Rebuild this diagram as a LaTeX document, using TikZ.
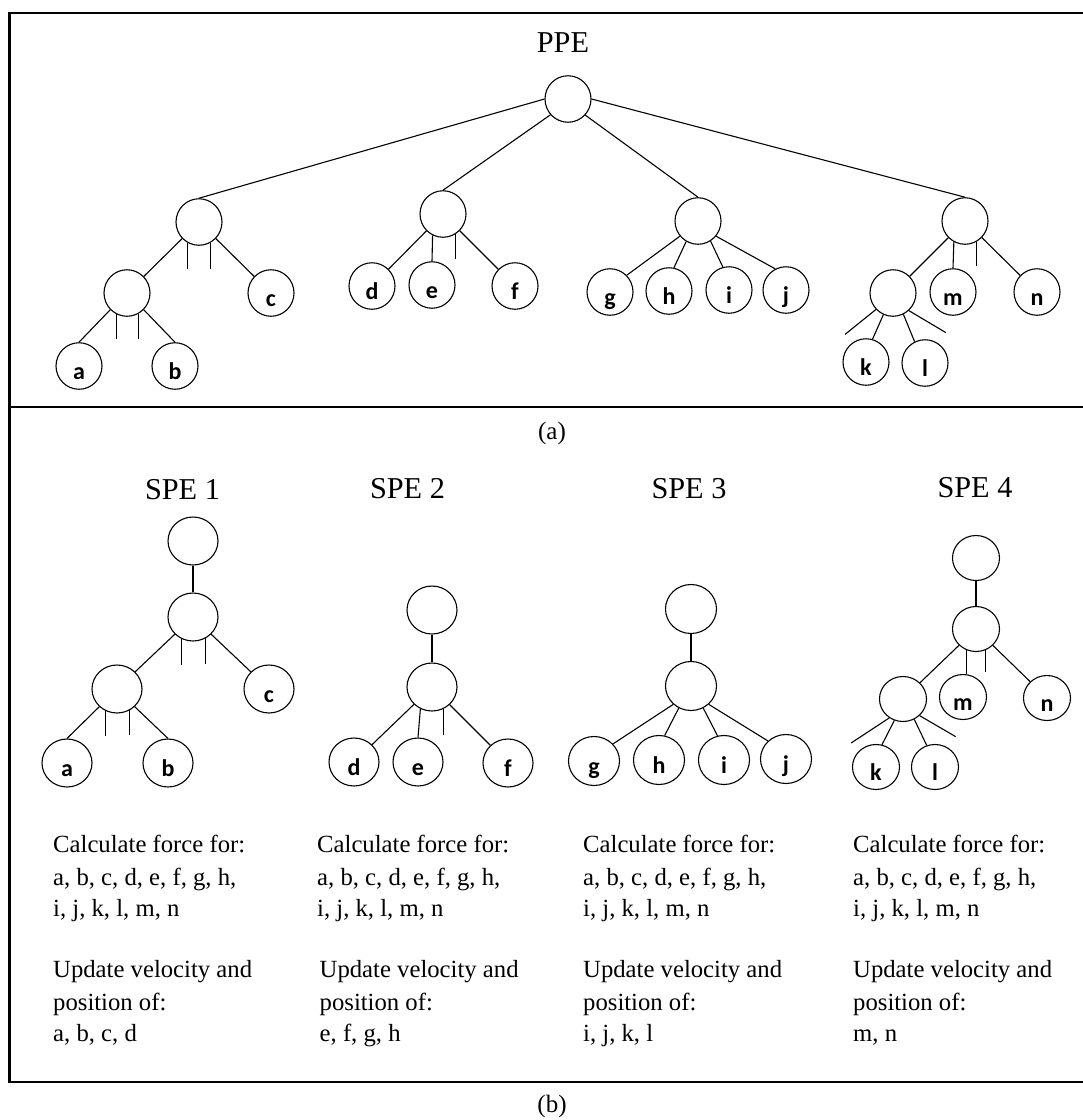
\documentclass[tikz,border=0pt]{standalone}
\usepackage{fontspec}
\setmainfont{Liberation Serif}
\newfontfamily\lblfont{Carlito}
\usetikzlibrary{shapes.geometric}
\newcommand\nlab[1]{\raisebox{-13pt}{#1}}
\begin{document}
\begin{tikzpicture}[x=1pt,y=-1pt,
  edge/.style={line width=1.1pt},
  frame/.style={line width=2.8pt},
  nbase/.style={draw, ellipse, line width=1.1pt, inner sep=0pt, text height=0pt, text depth=0pt,
    font=\lblfont\bfseries\fontsize{24}{24}\selectfont},
  na/.style={nbase, minimum width=46pt, minimum height=46.5pt},
  nb/.style={nbase, minimum width=50pt, minimum height=48pt},
  nc/.style={nbase, minimum width=51pt, minimum height=49pt},
  nd/.style={nbase, minimum width=47pt, minimum height=45pt},
  ttl/.style={font=\fontsize{30.3}{36}\selectfont, anchor=base, inner sep=0pt},
  capt/.style={font=\fontsize{25}{30}\selectfont, anchor=base, inner sep=0pt},
  txt/.style={font=\fontsize{24.7}{30}\selectfont, anchor=base west, inner sep=0pt},
]
\useasboundingbox (0,0) rectangle (1083,1120);

% frame
\draw[frame] (1083,13) -- (9.5,13) -- (9.5,1082) -- (1083,1082);
\draw[frame] (9.5,407) -- (1083,407);

% ---------------- (a) PPE ----------------
\node[ttl] (ppe) at (563,52.5) {PPE};
\node[na] (root) at (568,99) {};
\node[na] (p1) at (199,222) {};
\node[na] (p2) at (443,214) {};
\node[na] (p3) at (698,221) {};
\node[na] (p4) at (965,221) {};
\node[na] (q1) at (127,293) {};
\node[na] (c) at (271,293) {\nlab{c}};
\node[na] (a) at (79,366) {\nlab{a}};
\node[na] (b) at (175,366) {\nlab{b}};
\node[na] (d) at (372,286) {\nlab{d}};
\node[na] (e) at (432,285) {\nlab{e}};
\node[na] (f) at (515,286) {\nlab{f}};
\node[na] (g) at (610,292) {\nlab{g}};
\node[na] (h) at (669,291) {\nlab{h}};
\node[na] (i) at (729,290) {\nlab{i}};
\node[na] (j) at (786,290) {\nlab{j}};
\node[na] (q4) at (893,293) {};
\node[na] (m) at (953,292) {\nlab{m}};
\node[na] (n) at (1037,292) {\nlab{n}};
\node[na] (k) at (866,362) {\nlab{k}};
\node[na] (l) at (925,363) {\nlab{l}};

\draw[edge] (root.west) -- (p1.north);
\draw[edge] (root.-138) -- (p2.north);
\draw[edge] (root.-43) -- (p3.north);
\draw[edge] (root.east) -- (p4.north);

\draw[edge] (p1) -- (q1);
\draw[edge] (p1) -- (c);
\draw[edge] (p1.-118) -- ++(0,26);
\draw[edge] (p1.-61) -- ++(0,26);
\draw[edge] (q1.-135) -- (a.north);
\draw[edge] (q1.-45) -- (b.north);
\draw[edge] (q1.-116) -- ++(0,25);
\draw[edge] (q1.-61) -- ++(0,25);

\draw[edge] (p2) -- (d);
\draw[edge] (p2.-116) -- (e.north);
\draw[edge] (p2.-58) -- ++(0,25);
\draw[edge] (p2) -- (f);

\draw[edge] (p3.-140) -- (g.45);
\draw[edge] (p3.-120) -- (h.78);
\draw[edge] (p3.-58) -- (i.105);
\draw[edge] (p3.-40) -- (j.117);

\draw[edge] (p4) -- (q4);
\draw[edge] (p4.-118) -- (m.north);
\draw[edge] (p4.-61) -- ++(0,24);
\draw[edge] (p4) -- (n);
\draw[edge] (q4.-114) -- (k.74);
\draw[edge] (q4.-64) -- (l.116);
\draw[edge] (q4.-136) -- ++(-31,25);
\draw[edge] (q4.-48) -- ++(37,22);

\node[capt] (capa) at (552,439) {(a)};

% ---------------- (b) SPEs ----------------
\node[ttl] (spe1) at (182.5,499) {SPE 1};
\node[ttl] (spe2) at (407.5,498.5) {SPE 2};
\node[ttl] (spe3) at (689,498) {SPE 3};
\node[ttl] (spe4) at (975,497) {SPE 4};

% SPE 1
\node[nb] (t1) at (193,541) {};
\node[nb] (m1) at (193,617) {};
\node[nb] (s1q) at (117,689) {};
\node[nb] (c1) at (269,689) {\nlab{c}};
\node[nb] (a1) at (67,763) {\nlab{a}};
\node[nb] (b1) at (168,763) {\nlab{b}};
\draw[edge] (t1) -- (m1);
\draw[edge] (m1) -- (s1q);
\draw[edge] (m1) -- (c1);
\draw[edge] (m1.-117) -- ++(0,26);
\draw[edge] (m1.-60) -- ++(0,26);
\draw[edge] (s1q.-135) -- (a1.north);
\draw[edge] (s1q.-45) -- (b1.north);
\draw[edge] (s1q.-117) -- ++(0,25);
\draw[edge] (s1q.-60) -- ++(0,25);

% SPE 2
\node[nb] (t2) at (432,610) {};
\node[nb] (m2) at (432,687) {};
\node[nb] (d2) at (354,762) {\nlab{d}};
\node[nb] (e2) at (418,762) {\nlab{e}};
\node[nb] (f2) at (508,763) {\nlab{f}};
\draw[edge] (t2) -- (m2);
\draw[edge] (m2) -- (d2);
\draw[edge] (m2.-118) -- (e2.north);
\draw[edge] (m2.-62) -- ++(0,26);
\draw[edge] (m2) -- (f2);

% SPE 3
\node[nc] (t3) at (691,609) {};
\node[nc] (m3) at (691,686) {};
\node[nc] (g3) at (594,761) {\nlab{g}};
\node[nc] (h3) at (659,760) {\nlab{h}};
\node[nc] (i3) at (724,760) {\nlab{i}};
\node[nc] (j3) at (786,759) {\nlab{j}};
\draw[edge] (t3) -- (m3);
\draw[edge] (m3.-134) -- (g3.42);
\draw[edge] (m3.-119) -- (h3.77);
\draw[edge] (m3.-61) -- (i3.105);
\draw[edge] (m3.-46) -- (j3.135);

% SPE 4
\node[nd] (t4) at (976,558) {};
\node[nd] (m4) at (976,629) {};
\node[nd] (q4b) at (903,699) {};
\node[nd] (m4b) at (963,697) {\nlab{m}};
\node[nd] (n4) at (1047,698) {\nlab{n}};
\node[nd] (k4) at (876,767) {\nlab{k}};
\node[nd] (l4) at (935,767) {\nlab{l}};
\draw[edge] (t4) -- (m4);
\draw[edge] (m4) -- (q4b);
\draw[edge] (m4.-115) -- (m4.-115 |- m4b.north);
\draw[edge] (m4.-65) -- ++(0,22);
\draw[edge] (m4) -- (n4);
\draw[edge] (q4b.-112) -- (k4.75);
\draw[edge] (q4b.-61) -- (l4.111);
\draw[edge] (q4b.-126) -- ++(-38,25);
\draw[edge] (q4b.-45) -- ++(36,21);

% text columns
\node[txt] (c1l1) at (53,852.7) {Calculate force for:};
\node[txt] (c1l2) at (53,885.7) {a, b, c, d, e, f, g, h,};
\node[txt] (c1l3) at (53,916.7) {i, j, k, l, m, n};
\node[txt] (c1l4) at (53,977.7) {Update velocity and};
\node[txt] (c1l5) at (53,1010) {position of:};
\node[txt] (c1l6) at (53,1041.7) {a, b, c, d};

\node[txt] (c2l1) at (317,852.7) {Calculate force for:};
\node[txt] (c2l2) at (317,885.7) {a, b, c, d, e, f, g, h,};
\node[txt] (c2l3) at (317,916.7) {i, j, k, l, m, n};
\node[txt] (c2l4) at (319.5,977.7) {Update velocity and};
\node[txt] (c2l5) at (319.5,1010) {position of:};
\node[txt] (c2l6) at (319.5,1041.7) {e, f, g, h};

\node[txt] (c3l1) at (583,852.7) {Calculate force for:};
\node[txt] (c3l2) at (583,885.7) {a, b, c, d, e, f, g, h,};
\node[txt] (c3l3) at (583,916.7) {i, j, k, l, m, n};
\node[txt] (c3l4) at (583,977.7) {Update velocity and};
\node[txt] (c3l5) at (583,1010) {position of:};
\node[txt] (c3l6) at (583,1041.7) {i, j, k, l};

\node[txt] (c4l1) at (853,852.7) {Calculate force for:};
\node[txt] (c4l2) at (853,885.7) {a, b, c, d, e, f, g, h,};
\node[txt] (c4l3) at (853,916.7) {i, j, k, l, m, n};
\node[txt] (c4l4) at (853,977.7) {Update velocity and};
\node[txt] (c4l5) at (853,1010) {position of:};
\node[txt] (c4l6) at (853,1041.7) {m, n};

\node[capt] (capb) at (552,1112) {(b)};
\end{tikzpicture}
\end{document}
